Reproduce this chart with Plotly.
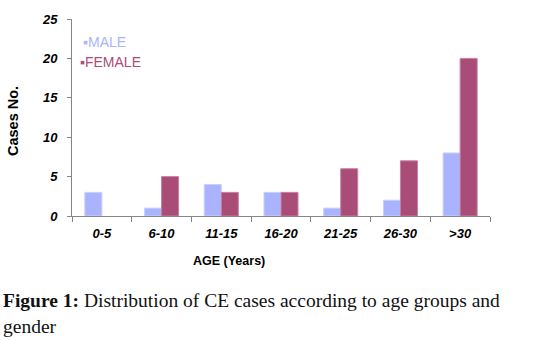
import plotly.graph_objects as go

categories = ["0-5", "6-10", "11-15", "16-20", "21-25", "26-30", ">30"]
male = [3, 1, 4, 3, 1, 2, 8]
female = [0, 5, 3, 3, 6, 7, 20]
y_ticks = [0, 5, 10, 15, 20, 25]

MALE_C = "#AAB4FE"
FEMALE_C = "#AA4C78"

L, R, T, B = 72, 56, 19, 137
W, H = 546, 353
PW, PH = W - L - R, H - T - B

def px(x):
    return (x - L) / PW

def py(y):
    return (H - B - y) / PH

fig = go.Figure()
fig.add_trace(go.Bar(x=categories, y=male, name="MALE",
                     marker=dict(color=MALE_C,
                                 line=dict(color="#C8CEFF", width=[0 if v == 0 else 1 for v in male])),
                     showlegend=False))
fig.add_trace(go.Bar(x=categories, y=female, name="FEMALE",
                     marker=dict(color=FEMALE_C,
                                 line=dict(color="#C87FA0", width=[0 if v == 0 else 1 for v in female])),
                     showlegend=False))

tickfont = dict(family="Liberation Sans", size=13, color="black", weight="bold", style="italic")

fig.update_layout(
    width=W, height=H,
    margin=dict(l=L, r=R, t=T, b=B),
    paper_bgcolor="white", plot_bgcolor="white",
    barmode="group", bargap=0.43, bargroupgap=0,
    xaxis=dict(showline=True, linecolor="#868686", linewidth=1,
               ticks="outside", tickson="boundaries", ticklen=5, tickcolor="#868686",
               tickfont=tickfont, showgrid=False, ticklabelstandoff=5),
    yaxis=dict(range=[0, 25], tickvals=y_ticks, showline=True, linecolor="#868686",
               linewidth=1, ticks="outside", ticklen=4, tickcolor="#868686",
               tickfont=tickfont, showgrid=False, zeroline=False, ticklabelstandoff=7),
)

annotations = [
    dict(text="<b>Cases No.</b>", x=px(13), y=py(121), textangle=-90, xanchor="center",
         font=dict(family="Liberation Sans", size=14.5, color="black")),
    dict(text="<b>AGE (Years)</b>", x=px(229), y=py(261), xanchor="center",
         font=dict(family="Liberation Sans", size=12.5, color="black")),
    dict(text="▪MALE", x=px(81), y=py(42), xanchor="left",
         font=dict(family="Liberation Sans", size=14, color=MALE_C)),
    dict(text="▪FEMALE", x=px(78), y=py(62), xanchor="left",
         font=dict(family="Liberation Sans", size=14, color=FEMALE_C)),
    dict(text="<b>Figure 1:</b> Distribution of CE cases according to age groups and",
         x=px(1), y=py(300), xanchor="left",
         font=dict(family="Liberation Serif", size=19.5, color="#111111")),
    dict(text="gender", x=px(1), y=py(326), xanchor="left",
         font=dict(family="Liberation Serif", size=19.5, color="#111111")),
]
for a in annotations:
    a.update(xref="paper", yref="paper", showarrow=False, yanchor="middle")
fig.update_layout(annotations=annotations)

fig.write_html("out.html")
